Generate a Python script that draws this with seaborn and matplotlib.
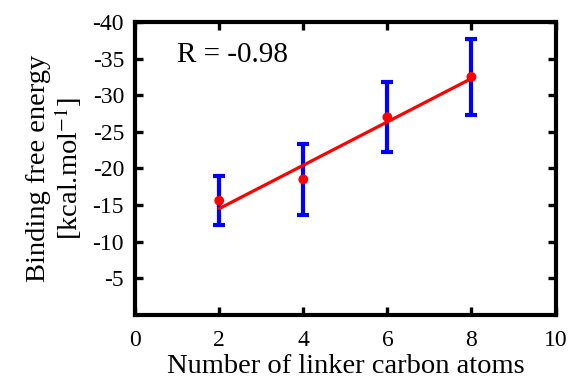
import numpy as np
import pandas as pd
import matplotlib
matplotlib.use("Agg")
import matplotlib.pyplot as plt
import seaborn as sns

# data
n_carbons = [2, 4, 6, 8]
dg_bind = [-15.6, -18.5, -27.0, -32.5]
dg_err = [3.3, 4.9, 4.8, 5.2]
r_label = "R = -0.98"

df = pd.DataFrame({"n": n_carbons, "dg": dg_bind, "err": dg_err})

sns.set_style("ticks")
plt.rcParams['font.family'] = ['Liberation Serif', 'DejaVu Serif']
plt.rcParams['mathtext.fontset'] = 'stix'
plt.rcParams['axes.unicode_minus'] = False
plt.rcParams['text.color'] = 'black'
plt.rcParams['axes.labelcolor'] = 'black'
plt.rcParams['xtick.color'] = 'black'
plt.rcParams['ytick.color'] = 'black'

fig = plt.figure(figsize=(5.68, 3.85), dpi=100)
ax = fig.add_axes([0.238, 0.182, 0.740, 0.761])

ax.errorbar(df["n"], df["dg"], yerr=df["err"], fmt="none", ecolor="#0000ff",
            elinewidth=3.0, capsize=4.5, capthick=3.0, zorder=2)
sns.regplot(data=df, x="n", y="dg", ax=ax, ci=None, scatter=False,
            color="#ff0000", line_kws={"linewidth": 2.3, "zorder": 3})
sns.scatterplot(data=df, x="n", y="dg", ax=ax, color="#ff0000", s=50,
                edgecolor="none", zorder=4)

ax.set_xlim(0, 10)
ax.set_ylim(0, -40)
ax.set_xticks([0, 2, 4, 6, 8, 10])
ax.set_yticks([-40, -35, -30, -25, -20, -15, -10, -5])
ax.tick_params(direction="in", top=True, right=True, length=6, width=2.4,
               labelsize=17, pad=8)
ax.tick_params(axis="x", pad=11)
for sp in ax.spines.values():
    sp.set_linewidth(3)
    sp.set_color("black")

ax.set_xlabel("Number of linker carbon atoms", fontsize=20.5, labelpad=2)
ax.set_ylabel("Binding free energy\n[kcal.mol$^{-1}$]", fontsize=20.5, labelpad=6,
              linespacing=1.05)
ax.text(1.0, -35.5, r_label, fontsize=21, va="center", ha="left")

fig.savefig("out.png", dpi=100)
